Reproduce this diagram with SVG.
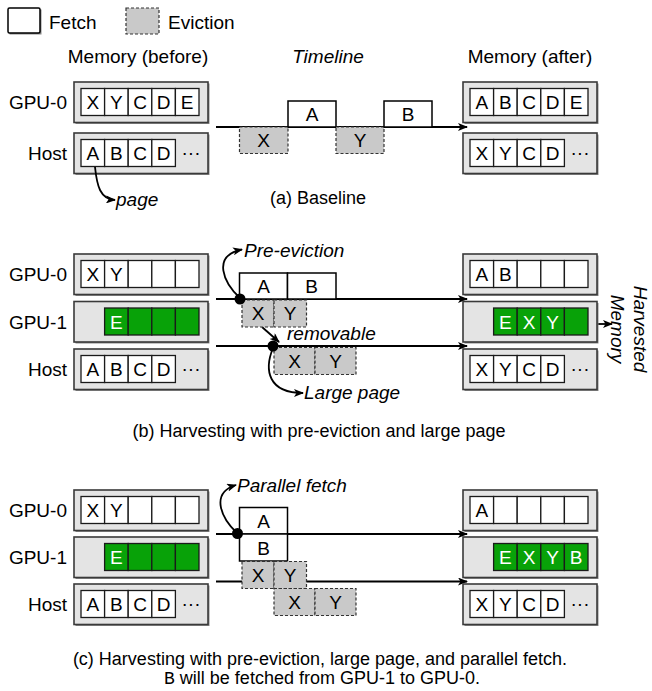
<svg xmlns="http://www.w3.org/2000/svg" width="652" height="691" viewBox="0 0 652 691">
<defs>
<style>
text{font-family:"Liberation Sans",Arial,sans-serif;font-size:19px;fill:#000}
.it{font-style:italic}
.cap{font-size:18px}
.mid{text-anchor:middle}
.end{text-anchor:end}
.wt{fill:#fff}
.mem{fill:#e4e4e4;stroke:#3a3a3a;stroke-width:1.6}
.sh{fill:#8a8a8a}
.cell{fill:#fff;stroke:#1a1a1a;stroke-width:1.3}
.grn{fill:#08a208;stroke:#1a1a1a;stroke-width:1.3}
.fetch{fill:#fff;stroke:#000;stroke-width:1.5}
.evict{fill:#c9c9c9;stroke:#333;stroke-width:1.2;stroke-dasharray:3,2}
.ln{fill:none;stroke:#000;stroke-width:2}
.cv{fill:none;stroke:#000;stroke-width:1.8}
</style>
<marker id="ah" viewBox="0 0 10 8" refX="9" refY="4" markerWidth="11" markerHeight="8" markerUnits="userSpaceOnUse" orient="auto">
<path d="M0,0 L10,4 L0,8 L2.5,4 z" fill="#000"/>
</marker>
</defs>
<rect width="652" height="691" fill="#fff"/>

<!-- Legend -->
<g id="legend">
<rect x="9.5" y="9.5" width="32" height="25" class="sh"/>
<rect x="8" y="8" width="32" height="25" class="fetch" rx="1.5"/>
<text x="49" y="29">Fetch</text>
<rect x="126" y="8" width="33" height="26" class="evict"/>
<text x="168" y="29">Eviction</text>
</g>

<g id="headers">
<text x="138" y="63" class="mid">Memory (before)</text>
<text x="328" y="63" class="mid it">Timeline</text>
<text x="530" y="63" class="mid">Memory (after)</text>
</g>

<!-- ===== (a) ===== -->
<g id="a-gpu0-before">
<text x="67" y="109" class="end">GPU-0</text>
<rect x="75.5" y="83.5" width="134" height="40.5" class="sh"/>
<rect x="74" y="82" width="134" height="40.5" class="mem"/>
<rect x="81" y="88.5" width="23.6" height="27" class="cell"/><text x="92.8" y="109" class="mid">X</text>
<rect x="104.6" y="88.5" width="23.6" height="27" class="cell"/><text x="116.4" y="109" class="mid">Y</text>
<rect x="128.2" y="88.5" width="23.6" height="27" class="cell"/><text x="140" y="109" class="mid">C</text>
<rect x="151.8" y="88.5" width="23.6" height="27" class="cell"/><text x="163.6" y="109" class="mid">D</text>
<rect x="175.4" y="88.5" width="23.6" height="27" class="cell"/><text x="187.2" y="109" class="mid">E</text>
</g>
<g id="a-host-before">
<text x="67" y="160" class="end">Host</text>
<rect x="75.5" y="134.5" width="134" height="40.5" class="sh"/>
<rect x="74" y="133" width="134" height="40.5" class="mem"/>
<rect x="81" y="139.5" width="23.6" height="27" class="cell"/><text x="92.8" y="160" class="mid">A</text>
<rect x="104.6" y="139.5" width="23.6" height="27" class="cell"/><text x="116.4" y="160" class="mid">B</text>
<rect x="128.2" y="139.5" width="23.6" height="27" class="cell"/><text x="140" y="160" class="mid">C</text>
<rect x="151.8" y="139.5" width="23.6" height="27" class="cell"/><text x="163.6" y="160" class="mid">D</text>
<text x="191" y="159" class="mid">···</text>
</g>
<g id="a-gpu0-after">
<rect x="464.5" y="83.5" width="134" height="40.5" class="sh"/>
<rect x="463" y="82" width="134" height="40.5" class="mem"/>
<rect x="470" y="88.5" width="23.6" height="27" class="cell"/><text x="481.8" y="109" class="mid">A</text>
<rect x="493.6" y="88.5" width="23.6" height="27" class="cell"/><text x="505.4" y="109" class="mid">B</text>
<rect x="517.2" y="88.5" width="23.6" height="27" class="cell"/><text x="529" y="109" class="mid">C</text>
<rect x="540.8" y="88.5" width="23.6" height="27" class="cell"/><text x="552.6" y="109" class="mid">D</text>
<rect x="564.4" y="88.5" width="23.6" height="27" class="cell"/><text x="576.2" y="109" class="mid">E</text>
</g>
<g id="a-host-after">
<rect x="464.5" y="134.5" width="134" height="40.5" class="sh"/>
<rect x="463" y="133" width="134" height="40.5" class="mem"/>
<rect x="470" y="139.5" width="23.6" height="27" class="cell"/><text x="481.8" y="160" class="mid">X</text>
<rect x="493.6" y="139.5" width="23.6" height="27" class="cell"/><text x="505.4" y="160" class="mid">Y</text>
<rect x="517.2" y="139.5" width="23.6" height="27" class="cell"/><text x="529" y="160" class="mid">C</text>
<rect x="540.8" y="139.5" width="23.6" height="27" class="cell"/><text x="552.6" y="160" class="mid">D</text>
<text x="580" y="159" class="mid">···</text>
</g>

<g id="connectors">
<!-- (a) -->
<line x1="216" y1="127" x2="467" y2="127" class="ln" marker-end="url(#ah)"/>
<path d="M95,167 C97,186 100,199 115,200" class="cv" marker-end="url(#ah)"/>
<!-- (b) -->
<line x1="216" y1="299" x2="467" y2="299" class="ln" marker-end="url(#ah)"/>
<line x1="216" y1="346" x2="467" y2="346" class="ln" marker-end="url(#ah)"/>
<path d="M240,298 C224,283 211,256 242,249.5" class="cv" marker-end="url(#ah)"/>
<path d="M273,348 C264,370 268,393 303,393" class="cv" marker-end="url(#ah)"/>
<line x1="262" y1="327" x2="279" y2="342" class="cv" marker-end="url(#ah)"/>
<line x1="588" y1="324" x2="612" y2="324" class="cv" marker-end="url(#ah)"/>
<!-- (c) -->
<line x1="216" y1="534" x2="467" y2="534" class="ln" marker-end="url(#ah)"/>
<line x1="216" y1="581.5" x2="467" y2="581.5" class="ln" marker-end="url(#ah)"/>
<path d="M237,533 C221,518 210,493 236,485" class="cv" marker-end="url(#ah)"/>
</g>

<g id="a-timeline">
<rect x="239.5" y="127" width="48.5" height="26.5" class="evict"/><text x="263.7" y="147" class="mid">X</text>
<rect x="288" y="101" width="48" height="26" class="fetch"/><text x="312" y="121" class="mid">A</text>
<rect x="336" y="127" width="48" height="26.5" class="evict"/><text x="360" y="147" class="mid">Y</text>
<rect x="384" y="101" width="48" height="26" class="fetch"/><text x="408" y="121" class="mid">B</text>
</g>
<g id="a-labels">
<text x="116" y="206" class="it">page</text>
<text x="318" y="204" class="mid cap">(a) Baseline</text>
</g>

<!-- ===== (b) ===== -->
<g id="b-gpu0-before">
<text x="67" y="281" class="end">GPU-0</text>
<rect x="75.5" y="255.5" width="134" height="40.5" class="sh"/>
<rect x="74" y="254" width="134" height="40.5" class="mem"/>
<rect x="81" y="260.5" width="23.6" height="27" class="cell"/><text x="92.8" y="281" class="mid">X</text>
<rect x="104.6" y="260.5" width="23.6" height="27" class="cell"/><text x="116.4" y="281" class="mid">Y</text>
<rect x="128.2" y="260.5" width="23.6" height="27" class="cell"/>
<rect x="151.8" y="260.5" width="23.6" height="27" class="cell"/>
<rect x="175.4" y="260.5" width="23.6" height="27" class="cell"/>
</g>
<g id="b-gpu1-before">
<text x="67" y="328.5" class="end">GPU-1</text>
<rect x="75.5" y="303" width="134" height="40.5" class="sh"/>
<rect x="74" y="301.5" width="134" height="40.5" class="mem"/>
<rect x="104.6" y="308" width="23.6" height="27" class="grn"/><text x="116.4" y="328.5" class="mid wt">E</text>
<rect x="128.2" y="308" width="23.6" height="27" class="grn"/>
<rect x="151.8" y="308" width="23.6" height="27" class="grn"/>
<rect x="175.4" y="308" width="23.6" height="27" class="grn"/>
</g>
<g id="b-host-before">
<text x="67" y="376" class="end">Host</text>
<rect x="75.5" y="350.5" width="134" height="40.5" class="sh"/>
<rect x="74" y="349" width="134" height="40.5" class="mem"/>
<rect x="81" y="355.5" width="23.6" height="27" class="cell"/><text x="92.8" y="376" class="mid">A</text>
<rect x="104.6" y="355.5" width="23.6" height="27" class="cell"/><text x="116.4" y="376" class="mid">B</text>
<rect x="128.2" y="355.5" width="23.6" height="27" class="cell"/><text x="140" y="376" class="mid">C</text>
<rect x="151.8" y="355.5" width="23.6" height="27" class="cell"/><text x="163.6" y="376" class="mid">D</text>
<text x="191" y="375" class="mid">···</text>
</g>
<g id="b-gpu0-after">
<rect x="464.5" y="255.5" width="134" height="40.5" class="sh"/>
<rect x="463" y="254" width="134" height="40.5" class="mem"/>
<rect x="470" y="260.5" width="23.6" height="27" class="cell"/><text x="481.8" y="281" class="mid">A</text>
<rect x="493.6" y="260.5" width="23.6" height="27" class="cell"/><text x="505.4" y="281" class="mid">B</text>
<rect x="517.2" y="260.5" width="23.6" height="27" class="cell"/>
<rect x="540.8" y="260.5" width="23.6" height="27" class="cell"/>
<rect x="564.4" y="260.5" width="23.6" height="27" class="cell"/>
</g>
<g id="b-gpu1-after">
<rect x="464.5" y="303" width="134" height="40.5" class="sh"/>
<rect x="463" y="301.5" width="134" height="40.5" class="mem"/>
<rect x="493.6" y="308" width="23.6" height="27" class="grn"/><text x="505.4" y="328.5" class="mid wt">E</text>
<rect x="517.2" y="308" width="23.6" height="27" class="grn"/><text x="529" y="328.5" class="mid wt">X</text>
<rect x="540.8" y="308" width="23.6" height="27" class="grn"/><text x="552.6" y="328.5" class="mid wt">Y</text>
<rect x="564.4" y="308" width="23.6" height="27" class="grn"/>
</g>
<g id="b-host-after">
<rect x="464.5" y="350.5" width="134" height="40.5" class="sh"/>
<rect x="463" y="349" width="134" height="40.5" class="mem"/>
<rect x="470" y="355.5" width="23.6" height="27" class="cell"/><text x="481.8" y="376" class="mid">X</text>
<rect x="493.6" y="355.5" width="23.6" height="27" class="cell"/><text x="505.4" y="376" class="mid">Y</text>
<rect x="517.2" y="355.5" width="23.6" height="27" class="cell"/><text x="529" y="376" class="mid">C</text>
<rect x="540.8" y="355.5" width="23.6" height="27" class="cell"/><text x="552.6" y="376" class="mid">D</text>
<text x="580" y="375" class="mid">···</text>
</g>
<g id="b-timeline">
<rect x="239.5" y="273" width="48" height="26" class="fetch"/><text x="263.5" y="293" class="mid">A</text>
<rect x="287.5" y="273" width="48.5" height="26" class="fetch"/><text x="311.7" y="293" class="mid">B</text>
<rect x="242" y="300" width="32" height="27" class="evict"/><text x="258" y="320" class="mid">X</text>
<rect x="274" y="300" width="32.5" height="27" class="evict"/><text x="290.2" y="320" class="mid">Y</text>
<rect x="274" y="347.5" width="41" height="27" class="evict"/><text x="294.5" y="367.5" class="mid">X</text>
<rect x="315" y="347.5" width="41" height="27" class="evict"/><text x="335.5" y="367.5" class="mid">Y</text>
<circle cx="240" cy="299" r="5.5" fill="#000"/>
<circle cx="273" cy="346" r="5.5" fill="#000"/>
</g>
<g id="b-labels">
<text x="244" y="257" class="it">Pre-eviction</text>
<text x="287" y="340" class="it">removable</text>
<text x="304" y="399" class="it">Large page</text>
<text transform="translate(634,329) rotate(90)" class="it mid">Harvested</text>
<text transform="translate(611,329) rotate(90)" class="it mid">Memory</text>
<text x="319" y="437" class="mid cap">(b) Harvesting with pre-eviction and large page</text>
</g>

<!-- ===== (c) ===== -->
<g id="c-gpu0-before">
<text x="67" y="517" class="end">GPU-0</text>
<rect x="75.5" y="491.5" width="134" height="40.5" class="sh"/>
<rect x="74" y="490" width="134" height="40.5" class="mem"/>
<rect x="81" y="496.5" width="23.6" height="27" class="cell"/><text x="92.8" y="517" class="mid">X</text>
<rect x="104.6" y="496.5" width="23.6" height="27" class="cell"/><text x="116.4" y="517" class="mid">Y</text>
<rect x="128.2" y="496.5" width="23.6" height="27" class="cell"/>
<rect x="151.8" y="496.5" width="23.6" height="27" class="cell"/>
<rect x="175.4" y="496.5" width="23.6" height="27" class="cell"/>
</g>
<g id="c-gpu1-before">
<text x="67" y="564" class="end">GPU-1</text>
<rect x="75.5" y="538.5" width="134" height="40.5" class="sh"/>
<rect x="74" y="537" width="134" height="40.5" class="mem"/>
<rect x="104.6" y="543.5" width="23.6" height="27" class="grn"/><text x="116.4" y="564" class="mid wt">E</text>
<rect x="128.2" y="543.5" width="23.6" height="27" class="grn"/>
<rect x="151.8" y="543.5" width="23.6" height="27" class="grn"/>
<rect x="175.4" y="543.5" width="23.6" height="27" class="grn"/>
</g>
<g id="c-host-before">
<text x="67" y="611" class="end">Host</text>
<rect x="75.5" y="585.5" width="134" height="40.5" class="sh"/>
<rect x="74" y="584" width="134" height="40.5" class="mem"/>
<rect x="81" y="590.5" width="23.6" height="27" class="cell"/><text x="92.8" y="611" class="mid">A</text>
<rect x="104.6" y="590.5" width="23.6" height="27" class="cell"/><text x="116.4" y="611" class="mid">B</text>
<rect x="128.2" y="590.5" width="23.6" height="27" class="cell"/><text x="140" y="611" class="mid">C</text>
<rect x="151.8" y="590.5" width="23.6" height="27" class="cell"/><text x="163.6" y="611" class="mid">D</text>
<text x="191" y="610" class="mid">···</text>
</g>
<g id="c-gpu0-after">
<rect x="464.5" y="491.5" width="134" height="40.5" class="sh"/>
<rect x="463" y="490" width="134" height="40.5" class="mem"/>
<rect x="470" y="496.5" width="23.6" height="27" class="cell"/><text x="481.8" y="517" class="mid">A</text>
<rect x="493.6" y="496.5" width="23.6" height="27" class="cell"/>
<rect x="517.2" y="496.5" width="23.6" height="27" class="cell"/>
<rect x="540.8" y="496.5" width="23.6" height="27" class="cell"/>
<rect x="564.4" y="496.5" width="23.6" height="27" class="cell"/>
</g>
<g id="c-gpu1-after">
<rect x="464.5" y="538.5" width="134" height="40.5" class="sh"/>
<rect x="463" y="537" width="134" height="40.5" class="mem"/>
<rect x="493.6" y="543.5" width="23.6" height="27" class="grn"/><text x="505.4" y="564" class="mid wt">E</text>
<rect x="517.2" y="543.5" width="23.6" height="27" class="grn"/><text x="529" y="564" class="mid wt">X</text>
<rect x="540.8" y="543.5" width="23.6" height="27" class="grn"/><text x="552.6" y="564" class="mid wt">Y</text>
<rect x="564.4" y="543.5" width="23.6" height="27" class="grn"/><text x="576.2" y="564" class="mid wt">B</text>
</g>
<g id="c-host-after">
<rect x="464.5" y="585.5" width="134" height="40.5" class="sh"/>
<rect x="463" y="584" width="134" height="40.5" class="mem"/>
<rect x="470" y="590.5" width="23.6" height="27" class="cell"/><text x="481.8" y="611" class="mid">X</text>
<rect x="493.6" y="590.5" width="23.6" height="27" class="cell"/><text x="505.4" y="611" class="mid">Y</text>
<rect x="517.2" y="590.5" width="23.6" height="27" class="cell"/><text x="529" y="611" class="mid">C</text>
<rect x="540.8" y="590.5" width="23.6" height="27" class="cell"/><text x="552.6" y="611" class="mid">D</text>
<text x="580" y="610" class="mid">···</text>
</g>
<g id="c-timeline">
<rect x="239.5" y="507.5" width="48" height="26.5" class="fetch"/><text x="263.5" y="528" class="mid">A</text>
<rect x="239.5" y="534" width="48" height="27" class="fetch"/><text x="263.5" y="554.5" class="mid">B</text>
<rect x="242" y="561.5" width="32" height="27" class="evict"/><text x="258" y="581.5" class="mid">X</text>
<rect x="274" y="561.5" width="32.5" height="27" class="evict"/><text x="290.2" y="581.5" class="mid">Y</text>
<rect x="274" y="588.5" width="41" height="27" class="evict"/><text x="294.5" y="608.5" class="mid">X</text>
<rect x="315" y="588.5" width="41" height="27" class="evict"/><text x="335.5" y="608.5" class="mid">Y</text>
<circle cx="237.5" cy="533.5" r="5.5" fill="#000"/>
</g>
<g id="c-labels">
<text x="237" y="492" class="it">Parallel fetch</text>
<text x="320" y="665" class="mid cap">(c) Harvesting with pre-eviction, large page, and parallel fetch.</text>
<text x="322" y="684" class="mid cap"><tspan font-family="'Liberation Mono',monospace">B</tspan> will be fetched from GPU-1 to GPU-0.</text>
</g>
</svg>
